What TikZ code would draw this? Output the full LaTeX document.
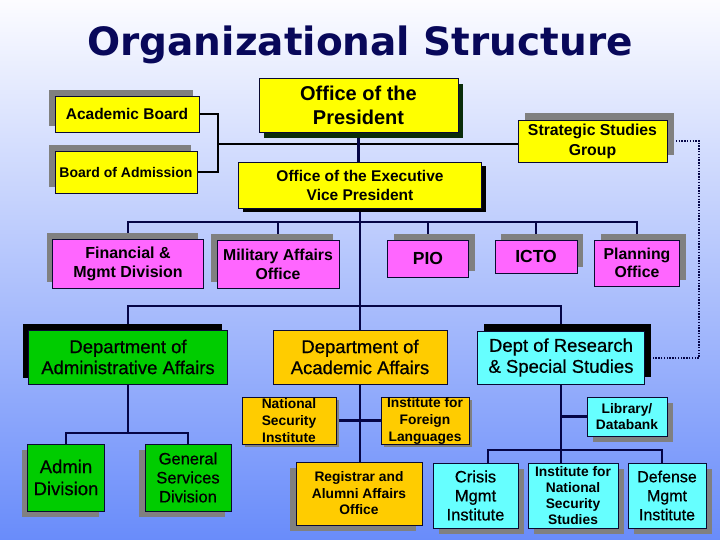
\documentclass[tikz,border=0pt]{standalone}
\usepackage{fontspec}
\setmainfont{Liberation Sans}
\newfontfamily\titlefont{DejaVu Sans}
\newfontfamily\semib{Liberation Sans}[FakeBold=0.6]
\usetikzlibrary{shadows}
\definecolor{yel}{RGB}{255,255,0}
\definecolor{pnk}{RGB}{255,102,255}
\definecolor{grn}{RGB}{0,204,0}
\definecolor{gld}{RGB}{255,204,0}
\definecolor{cyn}{RGB}{102,255,255}
\definecolor{bordc}{RGB}{10,10,50}
\definecolor{linec}{RGB}{5,5,70}
\definecolor{navyt}{RGB}{8,8,90}
\definecolor{shgray}{RGB}{128,128,128}
\definecolor{presSh}{RGB}{10,45,10}
\definecolor{bgtop}{RGB}{252,252,255}
\definecolor{bgmid}{RGB}{200,212,250}
\definecolor{bgbot}{RGB}{105,140,250}
\newcommand\fz[2]{\fontsize{#1}{#2}\selectfont}
\pgfdeclarelayer{bgl}
\pgfdeclarelayer{lns}
\pgfsetlayers{bgl,lns,main}
\begin{document}
\begin{tikzpicture}[x=1pt,y=-1pt,
  box/.style={draw=bordc,line width=0.8pt,inner sep=0pt,align=center,text=black},
  shd/.style n args={3}{general shadow={shadow xshift=#1,shadow yshift=#2,fill=#3}},
  conn/.style={draw=linec,line width=2.6pt},
  blk/.style={draw=black,line width=2.6pt},
  dots/.style={draw=linec,line width=2pt,dash pattern=on 1.4pt off 1.4pt}]
\useasboundingbox (0,0) rectangle (720,540);
\begin{pgfonlayer}{bgl}
\shade[top color=bgtop,middle color=bgmid,bottom color=bgbot] (0,0) rectangle (720,540);
\end{pgfonlayer}
% title
\node[anchor=base,text=navyt,font=\titlefont\bfseries\fz{39}{44}] (title) at (360,56) {Organizational Structure};
% top row
\node[box,fill=yel,shd={-6pt}{6pt}{shgray},minimum width=144pt,minimum height=36pt,font=\fz{15.5}{17}\bfseries] (ab) at (127,114) {Academic Board};
\node[box,fill=yel,shd={-6pt}{6pt}{shgray},minimum width=142pt,minimum height=42pt,font=\fz{14}{16}\bfseries] (boa) at (126,172) {Board of Admission};
\node[box,fill=yel,shd={5pt}{-6pt}{presSh},minimum width=199pt,minimum height=54pt,font=\fz{20}{24}\bfseries] (pres) at (358.5,105) {Office of the\\President};
\node[box,fill=yel,shd={7pt}{7pt}{shgray},minimum width=149pt,minimum height=42pt,font=\fz{15.8}{20}\bfseries] (ssg) at (592.5,141) {Strategic Studies\\Group};
\node[box,fill=yel,shd={4pt}{-4pt}{black},minimum width=243pt,minimum height=46pt,font=\fz{15.5}{19}\bfseries] (evp) at (360,185) {Office of the Executive\\Vice President};
% pink row
\node[box,fill=pnk,shd={-6pt}{6pt}{shgray},minimum width=151pt,minimum height=49pt,font=\fz{16}{19}\bfseries] (fin) at (128,263.5) {Financial \&\\Mgmt Division};
\node[box,fill=pnk,shd={-6pt}{6pt}{shgray},minimum width=122pt,minimum height=48pt,font=\fz{15.8}{19}\bfseries] (mil) at (278,264) {Military Affairs\\Office};
\node[box,fill=pnk,shd={6pt}{6pt}{shgray},minimum width=81pt,minimum height=37pt,font=\fz{17.5}{20}\bfseries] (pio) at (428,258.5) {PIO};
\node[box,fill=pnk,shd={6pt}{6pt}{shgray},minimum width=82pt,minimum height=33pt,font=\fz{17.5}{20}\bfseries] (icto) at (536,256.5) {ICTO};
\node[box,fill=pnk,shd={6pt}{6pt}{shgray},minimum width=85pt,minimum height=46pt,font=\fz{15.8}{18}\bfseries] (plan) at (637,263) {Planning\\Office};
% departments
\node[box,fill=grn,shd={-6pt}{6pt}{black},minimum width=199pt,minimum height=54pt,font=\semib\fz{18.5}{21}] (daa) at (128,357) {Department of\\Administrative Affairs};
\node[box,fill=gld,minimum width=174pt,minimum height=54pt,font=\semib\fz{18.5}{21}] (dacad) at (360,357) {Department of\\Academic Affairs};
\node[box,fill=cyn,shd={6pt}{7pt}{black},minimum width=167pt,minimum height=53pt,font=\semib\fz{18.5}{21}] (drs) at (561,357.5) {Dept of Research\\\& Special Studies};
% admin branch
\node[box,fill=grn,shd={-6pt}{-6pt}{shgray},minimum width=77pt,minimum height=67pt,font=\semib\fz{18.5}{22}] (admdiv) at (66,477.5) {Admin\\Division};
\node[box,fill=grn,shd={-6pt}{-6pt}{shgray},minimum width=86pt,minimum height=67pt,font=\semib\fz{16.5}{19}] (gsd) at (188,477.5) {General\\Services\\Division};
% academic branch
\node[box,fill=gld,shd={3pt}{-3pt}{shgray},minimum width=94pt,minimum height=47pt,font=\fz{13.8}{17}\bfseries] (nsi) at (289,420.5) {National\\Security\\Institute};
\node[box,fill=gld,shd={3pt}{-3pt}{shgray},minimum width=88pt,minimum height=47pt,font=\fz{13.8}{17}\bfseries] (ifl) at (425,420.5) {Institute for\\Foreign\\Languages};
\node[box,fill=gld,shd={-6pt}{-6pt}{shgray},minimum width=126pt,minimum height=63pt,font=\fz{13.8}{16.5}\bfseries] (reg) at (359,493.5) {Registrar and\\Alumni Affairs\\Office};
% research branch
\node[box,fill=cyn,shd={6pt}{-6pt}{shgray},minimum width=80pt,minimum height=39pt,font=\fz{13.8}{16}\bfseries] (lib) at (627,416.5) {Library/\\Databank};
\node[box,fill=cyn,shd={6pt}{-6pt}{shgray},minimum width=85pt,minimum height=65pt,font=\semib\fz{16.5}{19}] (cmi) at (475.5,495.5) {Crisis\\Mgmt\\Institute};
\node[box,fill=cyn,shd={6pt}{-6pt}{shgray},minimum width=90pt,minimum height=65pt,font=\fz{13.8}{16}\bfseries] (inss) at (573,495.5) {Institute for\\National\\Security\\Studies};
\node[box,fill=cyn,shd={6pt}{-6pt}{shgray},minimum width=78pt,minimum height=65pt,font=\semib\fz{16}{19}] (dmi) at (667,495.5) {Defense\\Mgmt\\Institute};
% connectors
\coordinate (j1) at (218,144);
\coordinate (bus1) at (0,222);
\coordinate (bus2) at (0,306);
\coordinate (bus3) at (0,433);
\coordinate (b4l) at (488,450);
\coordinate (b4r) at (662,450);
\begin{pgfonlayer}{lns}
\draw[blk] (ab.east) -| (j1) |- (boa.east);
\draw[blk] (j1) -- (ssg.west |- j1);
\draw[conn] (pres.south) -- (pres.south |- evp.north);
\draw[conn] (evp.south) -- (dacad.north);
\draw[conn] (fin.north) -- (fin.north |- bus1) -- (plan.north |- bus1) -- (plan.north);
\draw[conn] (mil.north) -- (mil.north |- bus1);
\draw[conn] (pio.north) -- (pio.north |- bus1);
\draw[conn] (icto.north) -- (icto.north |- bus1);
\draw[conn] (daa.north) -- (daa.north |- bus2) -- (drs.north |- bus2) -- (drs.north);
\draw[conn] (daa.south) -- (daa.south |- bus3);
\draw[conn] (admdiv.north) -- (admdiv.north |- bus3) -- (gsd.north |- bus3) -- (gsd.north);
\draw[conn] (dacad.south) -- (dacad.south |- reg.north);
\draw[conn] (nsi.east) -- (ifl.west);
\draw[conn] (drs.south) -- (drs.south |- inss.north);
\draw[conn] (drs.south |- lib.west) -- (lib.west);
\draw[conn] (b4l |- cmi.north) -- (b4l) -- (b4r) -- (b4r |- dmi.north);
\draw[dots] (ssg.east) -- ++(32,0) |- (drs.east);
\end{pgfonlayer}
\end{tikzpicture}
\end{document}
